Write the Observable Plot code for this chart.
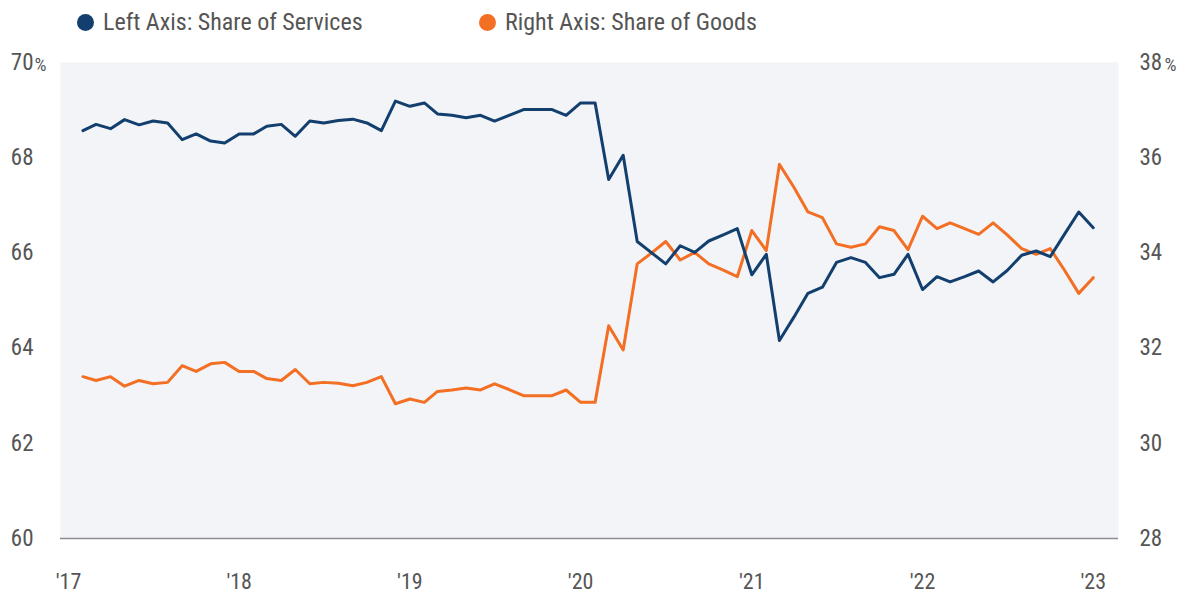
<!DOCTYPE html>
<html><head><meta charset="utf-8">
<script src="https://cdn.jsdelivr.net/npm/d3@7"></script>
<script src="https://cdn.jsdelivr.net/npm/@observablehq/plot@0.6"></script>
<style>
body{margin:0;background:#fff;font-family:"Liberation Sans Narrow","Roboto Condensed","DejaVu Sans Condensed",Roboto,sans-serif;color:#555;}
#legend{position:relative;height:42px;width:1181px;}
.item{position:absolute;top:9px;height:26px;display:flex;align-items:center;font-size:24px;color:#555;white-space:nowrap;}
.dot{width:17px;height:17px;border-radius:50%;margin-right:9px;}
#chart svg{display:block;}
</style></head><body>
<div id="legend"></div>
<div id="chart"></div>
<script>
const seriesNames = ["Left Axis: Share of Services", "Right Axis: Share of Goods"];
const colors = ["#123f6d", "#f36f24"];
const startMonth = "2017-02-01";
const services = [
  68.57, 68.70, 68.61, 68.80, 68.69, 68.77, 68.73, 68.38, 68.50, 68.35, 68.31,
  68.50, 68.50, 68.66, 68.70, 68.45, 68.77, 68.73, 68.78, 68.81, 68.73, 68.57, 69.19,
  69.08, 69.15, 68.92, 68.89, 68.84, 68.89, 68.77, 68.89, 69.01, 69.01, 69.01, 68.89,
  69.15, 69.15, 67.54, 68.05, 66.24, 66.00, 65.77, 66.15, 66.01, 66.25, 66.38, 66.51,
  65.54, 65.97, 64.16, 64.65, 65.15, 65.28, 65.80, 65.90, 65.80, 65.48, 65.55, 65.97,
  65.23, 65.50, 65.39, 65.50, 65.62, 65.39, 65.63, 65.95, 66.04, 65.92, 66.40, 66.86,
  66.53
];
const goods = [
  31.40, 31.32, 31.40, 31.20, 31.32, 31.25, 31.28, 31.63, 31.51, 31.67, 31.70,
  31.51, 31.51, 31.36, 31.32, 31.55, 31.25, 31.28, 31.26, 31.21, 31.28, 31.40, 30.83,
  30.93, 30.86, 31.09, 31.12, 31.16, 31.12, 31.25, 31.13, 31.00, 31.00, 31.00, 31.12,
  30.86, 30.86, 32.47, 31.96, 33.77, 34.00, 34.24, 33.85, 34.01, 33.77, 33.64, 33.50,
  34.47, 34.05, 35.86, 35.38, 34.86, 34.74, 34.19, 34.12, 34.19, 34.55, 34.47, 34.07,
  34.77, 34.51, 34.63, 34.51, 34.39, 34.63, 34.38, 34.09, 33.97, 34.09, 33.63, 33.15,
  33.48
];
const leftTicks = [60, 62, 64, 66, 68, 70];
const rightTicks = [28, 30, 32, 34, 36, 38];
const yearTicks = [2017, 2018, 2019, 2020, 2021, 2022, 2023];
const yearLabels = ["'17", "'18", "'19", "'20", "'21", "'22", "'23"];

// legend
const legend = document.getElementById("legend");
[[77, 0], [479, 1]].forEach(([left, i]) => {
  const it = document.createElement("div");
  it.className = "item";
  it.style.left = left + "px";
  it.innerHTML = `<span class="dot" style="background:${colors[i]}"></span><span>${seriesNames[i]}</span>`;
  legend.appendChild(it);
});

const start = new Date(startMonth + "T00:00:00Z");
const dates = services.map((_, i) => d3.utcMonth.offset(start, i));
const offset = 32; // right axis value + 32 = left axis value
const dataS = services.map((v, i) => ({date: dates[i], v}));
const dataG = goods.map((v, i) => ({date: dates[i], v: v + offset}));
const tickDates = yearTicks.map(y => new Date(Date.UTC(y, 0, 1)));

const font = `"Liberation Sans Narrow","Roboto Condensed","DejaVu Sans Condensed",Roboto,sans-serif`;
const chart = Plot.plot({
  width: 1181,
  height: 559,
  marginTop: 20,
  marginBottom: 63,
  marginLeft: 60,
  marginRight: 63,
  style: {fontFamily: font, color: "#555", background: "#fff", overflow: "visible"},
  x: {type: "utc", domain: [new Date(Date.UTC(2016, 11, 15)), new Date(Date.UTC(2023, 1, 24))]},
  y: {domain: [60, 70]},
  marks: [
    Plot.frame({fill: "#f2f4f7", stroke: null}),
    Plot.ruleY([60], {stroke: "#8a8d91", strokeWidth: 1.5}),
    Plot.axisY(leftTicks, {anchor: "left", tickSize: 0, tickPadding: 27, fontSize: 23, fill: "#555", label: null}),
    Plot.axisY(rightTicks.map(t => t + offset), {anchor: "right", tickSize: 0, tickPadding: 21, fontSize: 23, fill: "#555", label: null, tickFormat: d => d - offset}),
    Plot.text([70], {y: d => d, text: () => "%", frameAnchor: "left", dx: -26, dy: 2, textAnchor: "start", fontSize: 19, fill: "#555"}),
    Plot.text([38 + offset], {y: d => d, text: () => "%", frameAnchor: "right", dx: 46, dy: 2, textAnchor: "start", fontSize: 19, fill: "#555"}),
    Plot.axisX(tickDates, {anchor: "bottom", tickSize: 0, tickPadding: 35, fontSize: 22, fill: "#555", label: null, tickFormat: (d, i) => yearLabels[i]}),
    Plot.line(dataG, {x: "date", y: "v", stroke: colors[1], strokeWidth: 3}),
    Plot.line(dataS, {x: "date", y: "v", stroke: colors[0], strokeWidth: 3})
  ]
});
document.getElementById("chart").appendChild(chart);
</script>
</body></html>
